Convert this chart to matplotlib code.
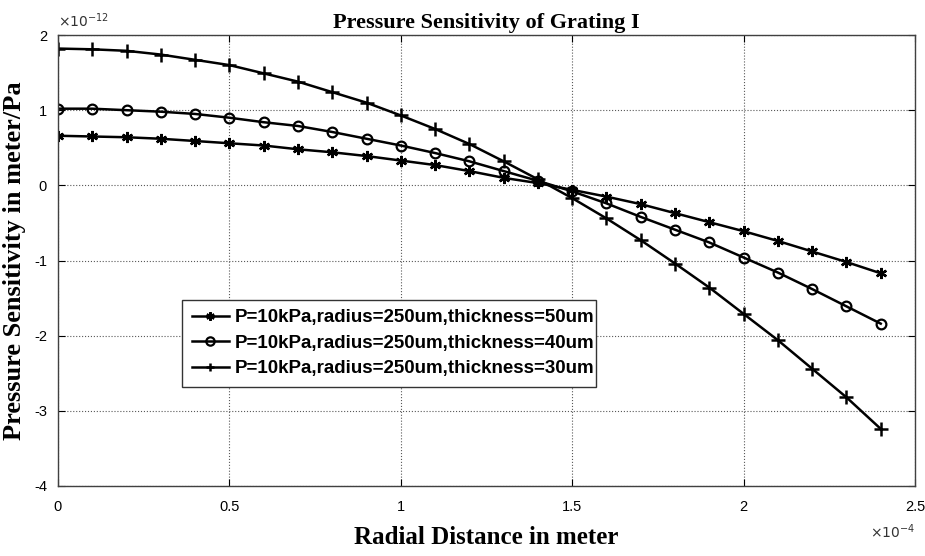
import numpy as np
import matplotlib
matplotlib.use('Agg')
import matplotlib.pyplot as plt

# radial distance, units of 1e-4 m
r = [0.0, 0.1, 0.2, 0.3, 0.4, 0.5, 0.6, 0.7, 0.8, 0.9, 1.0, 1.1, 1.2,
     1.3, 1.4, 1.5, 1.6, 1.7, 1.8, 1.9, 2.0, 2.1, 2.2, 2.3, 2.4]

# pressure sensitivity, units of 1e-12 m/Pa
s_50 = [0.66, 0.65, 0.64, 0.62, 0.59, 0.56, 0.53, 0.48, 0.44, 0.39, 0.33,
        0.27, 0.19, 0.10, 0.03, -0.06, -0.15, -0.25, -0.37, -0.49, -0.61,
        -0.74, -0.88, -1.02, -1.17]
s_40 = [1.02, 1.02, 1.00, 0.98, 0.95, 0.90, 0.84, 0.79, 0.71, 0.62, 0.53,
        0.43, 0.32, 0.19, 0.06, -0.08, -0.24, -0.42, -0.59, -0.76, -0.96,
        -1.16, -1.38, -1.61, -1.84]
s_30 = [1.82, 1.81, 1.79, 1.74, 1.67, 1.60, 1.49, 1.38, 1.24, 1.10, 0.93,
        0.75, 0.55, 0.32, 0.08, -0.17, -0.44, -0.73, -1.04, -1.36, -1.71,
        -2.06, -2.44, -2.82, -3.24]

labels = ['P=10kPa,radius=250um,thickness=50um',
          'P=10kPa,radius=250um,thickness=40um',
          'P=10kPa,radius=250um,thickness=30um']

xticks = [0, 0.5, 1, 1.5, 2, 2.5]
yticks = [-4, -3, -2, -1, 0, 1, 2]

plt.rcParams['axes.unicode_minus'] = False
plt.rcParams['font.family'] = ['Liberation Sans', 'DejaVu Sans']

fig = plt.figure(figsize=(9.25, 5.56), dpi=100)
ax = fig.add_axes([0.0627, 0.1259, 0.9265, 0.8111])

ax.plot(r, s_50, '-', color='k', lw=1.8, marker=(6, 2, 0), ms=8, mew=1.7,
        label=labels[0])
ax.plot(r, s_40, '-', color='k', lw=1.8, marker='o', ms=7, mew=1.6,
        mfc='none', label=labels[1])
ax.plot(r, s_30, '-', color='k', lw=1.8, marker='+', ms=10, mew=1.8,
        label=labels[2])

ax.set_xlim(0, 2.5)
ax.set_ylim(-4, 2)
ax.set_xticks(xticks)
ax.set_yticks(yticks)
ax.set_xticklabels(['%g' % t for t in xticks])
ax.set_yticklabels(['%g' % t for t in yticks])
ax.tick_params(direction='in', top=True, right=True, labelsize=10.5,
               length=5, width=0.8)
ax.tick_params(axis='x', pad=10)
ax.tick_params(axis='y', pad=8)

ax.grid(True, linestyle=':', color='0.35', linewidth=0.8)
for sp in ax.spines.values():
    sp.set_color('0.25')
    sp.set_linewidth(1.0)

ax.text(0.0, 1.012, r'$\times10^{-12}$', transform=ax.transAxes,
        ha='left', va='bottom', fontsize=10, color='0.2')
ax.text(1.0, -0.08, r'$\times10^{-4}$', transform=ax.transAxes,
        ha='right', va='top', fontsize=10, color='0.2')

ax.set_title('Pressure Sensitivity of Grating I', family='Liberation Serif',
             fontweight='bold', fontsize=16, pad=5)
ax.set_xlabel('Radial Distance in meter', family='Liberation Serif',
              fontweight='bold', fontsize=18, labelpad=9)
ax.set_ylabel('Pressure Sensitivity in meter/Pa', family='Liberation Serif',
              fontweight='bold', fontsize=19, labelpad=6)

leg = ax.legend(loc='lower left', bbox_to_anchor=(0.145, 0.22, 0.483, 0.19),
                mode='expand', fancybox=False, framealpha=1, edgecolor='0.2',
                prop={'family': 'Liberation Sans', 'weight': 'bold', 'size': 13.5},
                handlelength=2.0, handletextpad=0.3, borderpad=0.5,
                labelspacing=0.45, borderaxespad=0)
leg.get_frame().set_linewidth(1.0)
for h in leg.legend_handles:
    h.set_markersize(6)

fig.savefig('out.png', dpi=100)
